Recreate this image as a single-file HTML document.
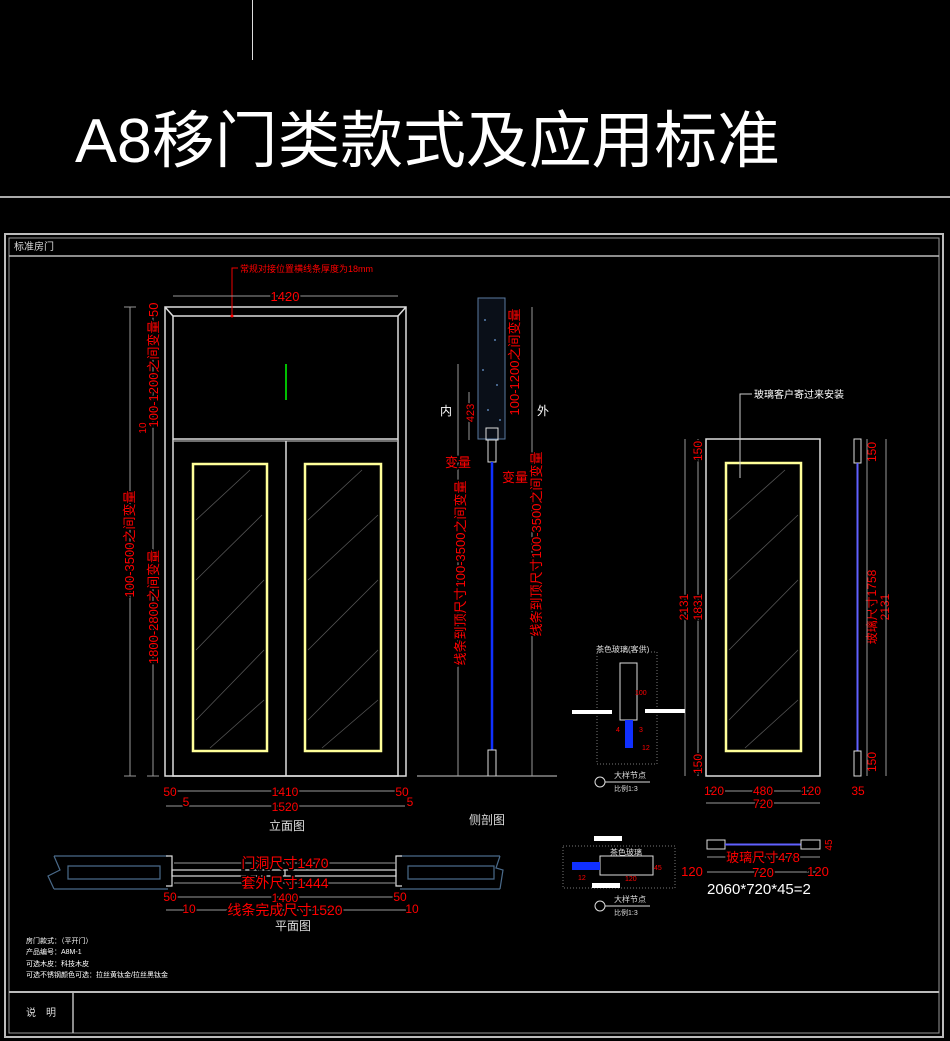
<!DOCTYPE html>
<html><head><meta charset="utf-8">
<style>
html,body{margin:0;padding:0;background:#000;}
svg{display:block;font-family:"Liberation Sans","Noto Sans CJK SC",sans-serif;}
</style></head>
<body>
<svg width="950" height="1041" viewBox="0 0 950 1041" xmlns="http://www.w3.org/2000/svg">
<rect width="950" height="1041" fill="#000"/>
<line x1="252.5" y1="0" x2="252.5" y2="60" stroke="#ddd" stroke-width="1"/>
<text x="75" y="162" font-size="62" fill="#fff" textLength="705" lengthAdjust="spacingAndGlyphs">A8移门类款式及应用标准</text>
<line x1="0" y1="197" x2="950" y2="197" stroke="#aaa" stroke-width="2"/>

<!-- frame -->
<rect x="5" y="234" width="938" height="803" fill="none" stroke="#bbb" stroke-width="2"/>
<rect x="9" y="238" width="930" height="795" fill="none" stroke="#999" stroke-width="1"/>
<line x1="9" y1="256" x2="939" y2="256" stroke="#bbb" stroke-width="1.5"/>
<text x="14" y="250" font-size="10" fill="#ddd">标准房门</text>
<line x1="9" y1="992" x2="939" y2="992" stroke="#bbb" stroke-width="2"/>
<line x1="73" y1="992" x2="73" y2="1033" stroke="#bbb" stroke-width="1.5"/>
<text x="26" y="1016" font-size="10" fill="#ddd">说　明</text>

<!-- elevation door -->
<g fill="none" stroke="#ddd" stroke-width="1.5">
<rect x="165" y="307" width="241" height="469"/>
<rect x="173" y="316" width="225" height="460"/>
<line x1="165" y1="307" x2="173" y2="316"/><line x1="406" y1="307" x2="398" y2="316"/>
<line x1="173" y1="439" x2="398" y2="439"/>
<line x1="174" y1="441" x2="397" y2="441" stroke-width="1"/>
<line x1="286" y1="441" x2="286" y2="776"/>
</g>
<g fill="none" stroke="#ffff99" stroke-width="2.5">
<rect x="193" y="464" width="74" height="287"/>
<rect x="305" y="464" width="76" height="287"/>
<rect x="726" y="463" width="75" height="288"/>
</g>
<g stroke="#555" stroke-width="0.8">
<line x1="196" y1="520" x2="250" y2="470"/><line x1="196" y1="580" x2="262" y2="515"/><line x1="196" y1="650" x2="264" y2="580"/><line x1="196" y1="720" x2="264" y2="650"/><line x1="210" y1="748" x2="264" y2="700"/>
<line x1="308" y1="520" x2="362" y2="470"/><line x1="308" y1="580" x2="378" y2="515"/><line x1="308" y1="650" x2="378" y2="580"/><line x1="308" y1="720" x2="378" y2="650"/><line x1="322" y1="748" x2="378" y2="700"/>
<line x1="729" y1="520" x2="785" y2="470"/><line x1="729" y1="580" x2="798" y2="515"/><line x1="729" y1="650" x2="798" y2="580"/><line x1="729" y1="720" x2="798" y2="650"/><line x1="745" y1="748" x2="798" y2="700"/>
</g>
<line x1="286" y1="364" x2="286" y2="400" stroke="#0f0" stroke-width="1.5"/>
<!-- top note -->
<polyline points="232,316 232,268 238,268" fill="none" stroke="#e00" stroke-width="1"/>
<circle cx="232" cy="316" r="1.5" fill="#f00"/>
<text x="240" y="272" font-size="9" fill="#f00">常规对接位置横线条厚度为18mm</text>
<line x1="173" y1="296" x2="398" y2="296" stroke="#999"/>
<text x="285" y="301" font-size="13" fill="#f00" text-anchor="middle" stroke="#000" stroke-width="3" paint-order="stroke">1420</text>
<!-- left dims -->
<line x1="130" y1="307" x2="130" y2="776" stroke="#999"/>
<line x1="124" y1="307" x2="136" y2="307" stroke="#999"/><line x1="124" y1="776" x2="136" y2="776" stroke="#999"/>
<line x1="153" y1="307" x2="153" y2="776" stroke="#999"/>
<line x1="147" y1="776" x2="159" y2="776" stroke="#999"/>
<g font-size="13" fill="#f00" text-anchor="middle" stroke="#000" stroke-width="3" paint-order="stroke">
<text transform="translate(134,544) rotate(-90)">100-3500之间变量</text>
<text transform="translate(158,365) rotate(-90)">100-1200之间变量 50</text>
<text transform="translate(158,607) rotate(-90)">1800-2800之间变量</text>
<text transform="translate(146,428) rotate(-90)" font-size="10">10</text>
</g>
<!-- bottom dims elevation -->
<line x1="166" y1="791" x2="405" y2="791" stroke="#999"/>
<line x1="166" y1="806" x2="405" y2="806" stroke="#999"/>
<g font-size="12" fill="#f00" text-anchor="middle" stroke="#000" stroke-width="3" paint-order="stroke">
<text x="285" y="796">1410</text><text x="285" y="811">1520</text>
<text x="170" y="796">50</text><text x="402" y="796">50</text>
<text x="186" y="806">5</text><text x="410" y="806">5</text>
</g>
<text x="287" y="830" font-size="12" fill="#ddd" text-anchor="middle">立面图</text>
<text x="487" y="824" font-size="12" fill="#ddd" text-anchor="middle">侧剖图</text>

<!-- side section -->
<rect x="478" y="298" width="27" height="141" fill="#0a0f18" stroke="#5a7aa0" stroke-width="1"/>
<g fill="#5a80b0"><circle cx="485" cy="320" r="1"/><circle cx="495" cy="340" r="1"/><circle cx="483" cy="370" r="1"/><circle cx="497" cy="385" r="1"/><circle cx="488" cy="410" r="1"/><circle cx="500" cy="420" r="1"/></g>
<rect x="486" y="428" width="12" height="12" fill="none" stroke="#ddd"/>
<rect x="488" y="440" width="8" height="22" fill="none" stroke="#ddd"/>
<line x1="492" y1="462" x2="492" y2="750" stroke="#1030ff" stroke-width="2.5"/>
<rect x="488" y="750" width="8" height="26" fill="none" stroke="#ddd"/>
<line x1="417" y1="776" x2="557" y2="776" stroke="#ccc"/>
<line x1="458" y1="364" x2="458" y2="776" stroke="#999"/>
<line x1="532" y1="307" x2="532" y2="776" stroke="#999"/>
<line x1="469" y1="392" x2="469" y2="440" stroke="#999"/>
<text x="440" y="415" font-size="12" fill="#fff">内</text>
<text x="537" y="415" font-size="12" fill="#fff">外</text>
<g font-size="13" fill="#f00" text-anchor="middle" stroke="#000" stroke-width="3" paint-order="stroke">
<text transform="translate(465,573) rotate(-90)">线条到顶尺寸100-3500之间变量</text>
<text transform="translate(541,544) rotate(-90)">线条到顶尺寸100-3500之间变量</text>
<text transform="translate(519,362) rotate(-90)">100-1200之间变量</text>
<text transform="translate(474,413) rotate(-90)" font-size="11">423</text>
<text x="458" y="467">变量</text><text x="515" y="482">变量</text>
</g>

<!-- right door -->
<rect x="706" y="439" width="114" height="337" fill="none" stroke="#ddd" stroke-width="1.5"/>
<polyline points="752,394 740,394 740,478" fill="none" stroke="#ccc"/>
<text x="754" y="398" font-size="10" fill="#fff">玻璃客户寄过来安装</text>
<line x1="685" y1="439" x2="685" y2="776" stroke="#999"/>
<line x1="698" y1="439" x2="698" y2="776" stroke="#999"/>
<g font-size="12" fill="#f00" text-anchor="middle" stroke="#000" stroke-width="3" paint-order="stroke">
<text transform="translate(688,607) rotate(-90)">2131</text>
<text transform="translate(702,607) rotate(-90)">1831</text>
<text transform="translate(702,451) rotate(-90)">150</text>
<text transform="translate(702,764) rotate(-90)">150</text>
<text transform="translate(876,607) rotate(-90)">玻璃尺寸1758</text>
<text transform="translate(889,607) rotate(-90)">2131</text>
<text transform="translate(876,452) rotate(-90)">150</text>
<text transform="translate(876,762) rotate(-90)">150</text>
</g>
<rect x="854" y="439" width="7" height="24" fill="none" stroke="#ddd"/>
<line x1="857.5" y1="463" x2="857.5" y2="751" stroke="#6060ff" stroke-width="2"/>
<rect x="854" y="751" width="7" height="25" fill="none" stroke="#ddd"/>
<line x1="867" y1="439" x2="867" y2="776" stroke="#999"/>
<line x1="886" y1="439" x2="886" y2="776" stroke="#999"/>
<line x1="706" y1="791" x2="820" y2="791" stroke="#999"/>
<line x1="706" y1="803" x2="820" y2="803" stroke="#999"/>
<g font-size="12" fill="#f00" text-anchor="middle" stroke="#000" stroke-width="3" paint-order="stroke">
<text x="714" y="795">120</text><text x="763" y="795">480</text><text x="811" y="795">120</text>
<text x="763" y="808">720</text><text x="858" y="795">35</text>
</g>

<!-- detail node 1 -->
<rect x="597" y="652" width="60" height="112" fill="none" stroke="#777" stroke-dasharray="1,2"/>
<text x="596" y="652" font-size="8" fill="#ddd">茶色玻璃(客供)</text>
<rect x="620" y="663" width="17" height="57" fill="none" stroke="#ddd"/>
<rect x="625" y="720" width="8" height="28" fill="#1030ff"/>
<rect x="572" y="710" width="40" height="4" fill="#fff"/>
<rect x="645" y="709" width="40" height="4" fill="#fff"/>
<g font-size="7" fill="#f00"><text x="616" y="732">4</text><text x="639" y="732">3</text><text x="642" y="750">12</text><text x="635" y="695">100</text></g>
<circle cx="600" cy="782" r="5" fill="none" stroke="#ddd"/>
<line x1="605" y1="782" x2="650" y2="782" stroke="#ddd"/>
<text x="614" y="778" font-size="8" fill="#ddd">大样节点</text>
<text x="614" y="791" font-size="7" fill="#ddd">比例1:3</text>

<!-- detail node 2 -->
<rect x="563" y="846" width="112" height="42" fill="none" stroke="#777" stroke-dasharray="1,2"/>
<rect x="594" y="836" width="28" height="5" fill="#fff"/>
<rect x="592" y="883" width="28" height="5" fill="#fff"/>
<text x="610" y="855" font-size="8" fill="#ddd">茶色玻璃</text>
<rect x="600" y="856" width="53" height="19" fill="none" stroke="#ddd"/>
<rect x="572" y="862" width="28" height="8" fill="#1030ff"/>
<g font-size="7" fill="#f00"><text x="578" y="880">12</text><text x="625" y="881">120</text><text x="654" y="870">45</text></g>
<circle cx="600" cy="906" r="5" fill="none" stroke="#ddd"/>
<line x1="605" y1="906" x2="650" y2="906" stroke="#ddd"/>
<text x="614" y="902" font-size="8" fill="#ddd">大样节点</text>
<text x="614" y="915" font-size="7" fill="#ddd">比例1:3</text>

<rect x="707" y="840" width="18" height="9" fill="none" stroke="#ddd"/>
<line x1="725" y1="844.5" x2="801" y2="844.5" stroke="#6060ff" stroke-width="2"/>
<rect x="801" y="840" width="19" height="9" fill="none" stroke="#ddd"/>
<line x1="707" y1="857" x2="820" y2="857" stroke="#999"/>
<line x1="707" y1="872" x2="820" y2="872" stroke="#999"/>
<g font-size="13" fill="#f00" text-anchor="middle" stroke="#000" stroke-width="3" paint-order="stroke">
<text x="763" y="862">玻璃尺寸478</text><text x="763" y="877">720</text>
<text x="692" y="876">120</text><text x="818" y="876">120</text>
<text transform="translate(832,845) rotate(-90)" font-size="10">45</text>
</g>
<text x="707" y="894" font-size="15" fill="#fff">2060*720*45=2</text>

<!-- plan -->
<g fill="none" stroke="#4a6a8a" stroke-width="1.2">
<path d="M54,856 L168,856 M54,889 L168,889 M68,866 L160,866 L160,879 L68,879 Z M54,856 L60,870 L48,876 L54,889"/>
<path d="M400,856 L500,856 M400,889 L500,889 M408,866 L494,866 L494,879 L408,879 Z M500,856 L496,868 L503,870 L500,889"/>
</g>
<g fill="none" stroke="#ddd" stroke-width="1.2">
<path d="M166,856 h6 v30 h-6"/><path d="M402,856 h-6 v30 h6"/>
<rect x="172" y="870" width="224" height="6"/>
<line x1="285" y1="870" x2="285" y2="876"/>
</g>
<line x1="174" y1="863" x2="396" y2="863" stroke="#999"/>
<line x1="174" y1="883" x2="396" y2="883" stroke="#999"/>
<line x1="166" y1="897" x2="402" y2="897" stroke="#999"/>
<line x1="166" y1="910" x2="406" y2="910" stroke="#999"/>
<g font-size="14" fill="#f00" text-anchor="middle" stroke="#000" stroke-width="3" paint-order="stroke">
<text x="285" y="868">门洞尺寸1470</text>
<text x="285" y="888">套外尺寸1444</text>
<text x="285" y="902" font-size="12">1400</text>
<text x="285" y="915">线条完成尺寸1520</text>
<text x="170" y="901" font-size="12">50</text><text x="400" y="901" font-size="12">50</text>
<text x="189" y="913" font-size="12">10</text><text x="412" y="913" font-size="12">10</text>
</g>
<text x="293" y="930" font-size="12" fill="#ddd" text-anchor="middle">平面图</text>
<g font-size="7" fill="#fff">
<text x="26" y="943">房门款式：（平开门）</text>
<text x="26" y="954">产品编号：A8M-1</text>
<text x="26" y="966">可选木皮：科技木皮</text>
<text x="26" y="977">可选不锈钢颜色可选：拉丝黄钛金/拉丝黑钛金</text>
</g>
</svg>
</body></html>
